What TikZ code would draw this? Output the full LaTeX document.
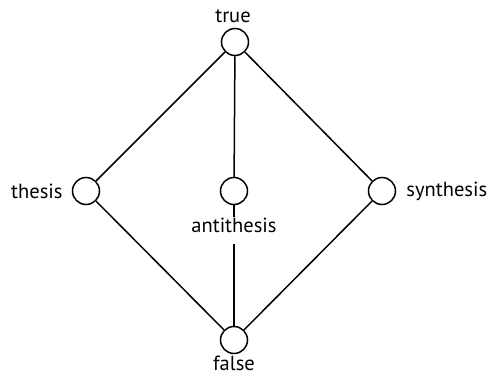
\documentclass[tikz,border=0pt]{standalone}
\usepackage{fontspec}
\setmainfont{PT Sans}
\usetikzlibrary{positioning}

\begin{document}
\begin{tikzpicture}[
	x=1pt, y=-1pt,
	vtx/.style={circle, draw, line width=1.5pt, minimum size=27pt, inner sep=0pt},
	edge/.style={line width=1.5pt},
	lbl/.style={font=\fontsize{20.5}{20.5}\selectfont, inner sep=1pt},
	]
	\useasboundingbox (0,0) rectangle (491,378);

	\node[vtx] (true) at (235,42) {};
	\node[vtx] (thesis) at (86,191) {};
	\node[vtx] (anti) at (234,191) {};
	\node[vtx] (synth) at (382,191) {};
	\node[vtx] (false) at (234,340) {};

	\draw[edge] (true) -- (thesis);
	\draw[edge] (true) -- (anti);
	\draw[edge] (true) -- (synth);
	\draw[edge] (thesis) -- (false);
	\draw[edge] (anti) -- (false);
	\draw[edge] (synth) -- (false);

	\node[lbl, above=4pt of true, xshift=-2pt] (ltrue) {true};
	\node[lbl, left=8pt of thesis] (lthesis) {thesis};
	\node[lbl, below=12pt of anti, text depth=10pt, fill=white] (lanti) {antithesis};
	\node[lbl, right=9pt of synth] (lsynth) {synthesis};
	\node[lbl, below=1pt of false] (lfalse) {false};

\end{tikzpicture}
\end{document}
